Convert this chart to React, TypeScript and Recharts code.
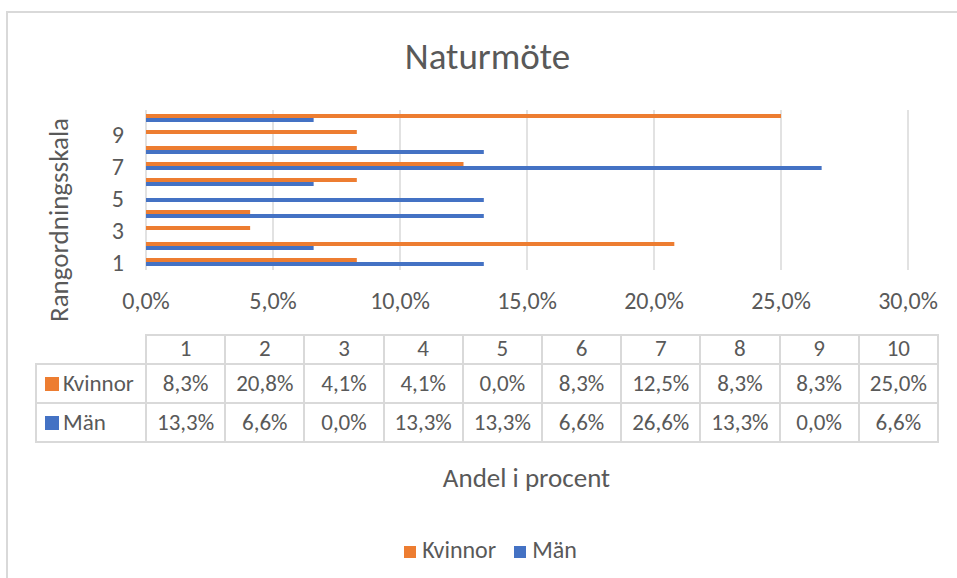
import React from "react";
import { BarChart, Bar, XAxis, YAxis, CartesianGrid } from "recharts";

const categories = ["1", "2", "3", "4", "5", "6", "7", "8", "9", "10"];
const kvinnor = [8.3, 20.8, 4.1, 4.1, 0.0, 8.3, 12.5, 8.3, 8.3, 25.0];
const man = [13.3, 6.6, 0.0, 13.3, 13.3, 6.6, 26.6, 13.3, 0.0, 6.6];
const xTicks = [0, 5, 10, 15, 20, 25, 30];

const ORANGE = "#ED7D31";
const BLUE = "#4472C4";
const TEXT = "#595959";
const GRID = "#d9d9d9";
const FONT = "Carlito, Calibri, Lato, sans-serif";

const fmt = (v: number) => `${v.toFixed(1).replace(".", ",")}%`;

const data = categories.map((c, i) => ({ cat: c, Kvinnor: kvinnor[i], Man: man[i] }));

const series = [
  { name: "Kvinnor", values: kvinnor, color: ORANGE },
  { name: "Män", values: man, color: BLUE },
];

const cell: React.CSSProperties = {
  border: `2px solid ${GRID}`,
  textAlign: "center",
  padding: 0,
  lineHeight: 1,
  whiteSpace: "nowrap",
};

export default function App() {
  return (
    <div
      style={{
        position: "absolute",
        left: 0,
        top: 0,
        width: 957,
        height: 578,
        overflow: "hidden",
        background: "#fff",
        fontFamily: FONT,
        color: TEXT,
      }}
    >
      <div
        style={{
          position: "absolute",
          left: 6,
          top: 11,
          width: 970,
          height: 600,
          border: `2px solid ${GRID}`,
        }}
      />
      <div
        style={{
          position: "absolute",
          left: 0,
          width: 975,
          top: 34,
          textAlign: "center",
          fontSize: 37,
          lineHeight: "46px",
        }}
      >
        Naturmöte
      </div>
      <div
        style={{
          position: "absolute",
          left: 59,
          top: 220,
          transform: "translate(-50%, -50%) rotate(-90deg)",
          fontSize: 27,
          lineHeight: 1.2,
          whiteSpace: "nowrap",
        }}
      >
        Rangordningsskala
      </div>

      <div style={{ position: "absolute", left: 0, top: 0 }}>
        <BarChart
          width={957}
          height={578}
          data={data}
          layout="vertical"
          margin={{ top: 110, right: 49, bottom: 278, left: 86 }}
          barGap={0}
          barCategoryGap={4}
        >
          <CartesianGrid horizontal={false} stroke={GRID} strokeWidth={1.5} />
          <XAxis
            type="number"
            domain={[0, 30]}
            ticks={xTicks}
            tickFormatter={fmt}
            axisLine={false}
            tickLine={false}
            tickSize={0}
            tickMargin={22}
            tick={{ fill: TEXT, fontSize: 24, fontFamily: FONT }}
          />
          <YAxis
            type="category"
            dataKey="cat"
            reversed
            width={60}
            interval={1}
            axisLine={false}
            tickLine={false}
            tickSize={0}
            tickMargin={22}
            tick={{ fill: TEXT, fontSize: 24, fontFamily: FONT }}
          />
          <Bar dataKey="Kvinnor" fill={ORANGE} barSize={4} isAnimationActive={false} />
          <Bar dataKey="Man" name="Män" fill={BLUE} barSize={4} isAnimationActive={false} />
        </BarChart>
      </div>

      <table
        style={{
          position: "absolute",
          left: 35,
          top: 334,
          width: 904,
          borderCollapse: "collapse",
          fontSize: 23,
          color: TEXT,
          fontFamily: FONT,
          tableLayout: "fixed",
        }}
      >
        <colgroup>
          <col style={{ width: 110 }} />
          {categories.map((c) => (
            <col key={c} style={{ width: 79.2 }} />
          ))}
        </colgroup>
        <tbody>
          <tr style={{ height: 29 }}>
            <td style={{ padding: 0, border: "none", borderBottom: `2px solid ${GRID}` }} />
            {categories.map((c) => (
              <td key={c} style={{ ...cell, verticalAlign: "bottom", paddingBottom: 3 }}>
                {c}
              </td>
            ))}
          </tr>
          {series.map((s) => (
            <tr key={s.name} style={{ height: 39 }}>
              <td style={{ ...cell, textAlign: "left", paddingLeft: 8 }}>
                <span
                  style={{
                    display: "inline-block",
                    width: 14,
                    height: 14,
                    background: s.color,
                    marginRight: 4,
                    verticalAlign: "0px",
                  }}
                />
                {s.name}
              </td>
              {s.values.map((v, i) => (
                <td key={i} style={cell}>
                  {fmt(v)}
                </td>
              ))}
            </tr>
          ))}
        </tbody>
      </table>

      <div
        style={{
          position: "absolute",
          left: 0,
          width: 1053,
          top: 461,
          textAlign: "center",
          fontSize: 27,
          lineHeight: "34px",
        }}
      >
        Andel i procent
      </div>

      <div
        style={{
          position: "absolute",
          left: 0,
          width: 981,
          top: 535,
          textAlign: "center",
          fontSize: 24,
          lineHeight: "29px",
          whiteSpace: "nowrap",
        }}
      >
        {series.map((s, i) => (
          <span key={s.name} style={{ marginLeft: i ? 18 : 0 }}>
            <span
              style={{
                display: "inline-block",
                width: 12,
                height: 12,
                background: s.color,
                marginRight: 6,
                verticalAlign: "0px",
              }}
            />
            {s.name}
          </span>
        ))}
      </div>
    </div>
  );
}
